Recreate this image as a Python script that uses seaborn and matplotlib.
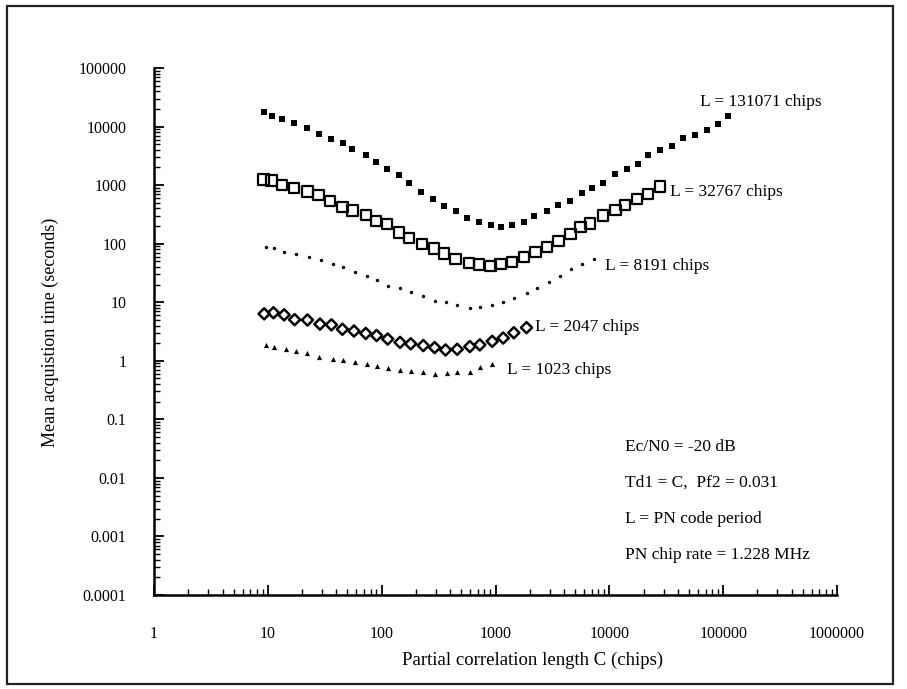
import numpy as np
import pandas as pd
import matplotlib
matplotlib.use("Agg")
import matplotlib.pyplot as plt
import seaborn as sns
from matplotlib.ticker import LogLocator, NullFormatter, FixedLocator, FixedFormatter
from matplotlib.patches import Rectangle

# ---- data (C in chips, T in seconds) ----
c_131071 = [9.2, 10.8, 13.3, 17.0, 22.3, 27.9, 35.7, 45.3, 55.4, 72.5, 88.6, 111, 142, 173, 220,
            284, 352, 446, 565, 714, 904, 1107, 1401, 1772, 2198, 2843, 3573, 4550, 5800, 7100,
            8850, 11300, 14400, 17950, 22000, 28000, 35700, 44600, 56800, 72400, 90300, 110600]
t_131071 = [17400, 15200, 13300, 11600, 9480, 7530, 6140, 5160, 4100, 3210, 2440, 1910, 1460, 1085,
            774, 576, 438, 368, 273, 239, 205, 192, 209, 239, 292, 368, 457, 537, 743, 910,
            1070, 1545, 1890, 2320, 3210, 3930, 4620, 6400, 7230, 8860, 10850, 15000]

c_32767 = [9.17, 10.8, 13.3, 17.0, 22.3, 27.9, 35.2, 45.3, 55.4, 72.5, 88.6, 111, 142, 173, 227,
           288, 352, 446, 583, 714, 904, 1107, 1401, 1772, 2243, 2843, 3573, 4550, 5570, 6810,
           8850, 11300, 13800, 17600, 22000, 28000]
t_32767 = [1245, 1196, 1017, 885, 774, 677, 531, 421, 368, 308, 245, 214, 156, 124, 98.8,
           83.0, 67.7, 55.2, 46.4, 43.9, 42.1, 45.1, 48.3, 59.2, 72.6, 88.9, 110, 146, 195, 220,
           304, 372, 457, 583, 714, 949]

c_8191 = [9.6, 11.4, 13.9, 17.6, 23.0, 29.2, 37.0, 46.2, 58.0, 73.8, 91.6, 113, 145, 180, 232,
          292, 364, 461, 595, 728, 936, 1169, 1449, 1873, 2321, 2935, 3718, 4613, 5762, 7278]
t_8191 = [88.9, 83.0, 72.6, 65.8, 59.2, 51.6, 45.1, 39.4, 33.0, 28.1, 23.6, 19.2, 17.5, 14.9, 12.8,
          10.6, 10.2, 8.89, 8.10, 8.29, 8.89, 10.2, 12.0, 14.3, 17.5, 22.3, 28.1, 36.8, 45.1, 53.7]

c_2047 = [9.28, 11.2, 13.9, 17.2, 22.3, 28.7, 36.2, 45.2, 57.1, 72.5, 90.3, 113, 145, 180, 232,
          292, 364, 461, 595, 728, 936, 1169, 1449, 1873]
t_2047 = [6.34, 6.61, 6.09, 5.04, 4.97, 4.23, 4.11, 3.45, 3.22, 2.93, 2.70, 2.35, 2.06, 1.95, 1.82,
          1.68, 1.53, 1.57, 1.75, 1.87, 2.15, 2.45, 3.01, 3.68]

c_1023 = [9.6, 11.4, 14.4, 17.6, 22.3, 28.2, 37.0, 46.2, 58.0, 73.8, 91.6, 113, 145, 182, 232,
          292, 372, 461, 595, 738, 936]
t_1023 = [1.88, 1.75, 1.57, 1.47, 1.37, 1.17, 1.09, 1.05, 0.953, 0.889, 0.800, 0.755, 0.697, 0.661,
          0.634, 0.592, 0.616, 0.634, 0.653, 0.778, 0.889]

series_names = ["L = 131071 chips", "L = 32767 chips", "L = 8191 chips", "L = 2047 chips", "L = 1023 chips"]
series_c = [c_131071, c_32767, c_8191, c_2047, c_1023]
series_t = [t_131071, t_32767, t_8191, t_2047, t_1023]

x_ticks = [1, 10, 100, 1000, 10000, 100000, 1000000]
x_ticklabels = ["1", "10", "100", "1000", "10000", "100000", "1000000"]
y_ticks = [0.0001, 0.001, 0.01, 0.1, 1, 10, 100, 1000, 10000, 100000]
y_ticklabels = ["0.0001", "0.001", "0.01", "0.1", "1", "10", "100", "1000", "10000", "100000"]

note_lines = ["Ec/N0 = -20 dB", "Td1 = C,  Pf2 = 0.031", "L = PN code period", "PN chip rate = 1.228 MHz"]

x_title = "Partial correlation length C (chips)"
y_title = "Mean acquistion time (seconds)"

df = pd.concat([pd.DataFrame({"C": c, "T": t, "series": n})
                for n, c, t in zip(series_names, series_c, series_t)], ignore_index=True)

# ---- styling ----
sns.set_style("ticks")
plt.rcParams["font.family"] = ["Liberation Serif", "DejaVu Serif"]
plt.rcParams["text.color"] = "black"

W, H = 907, 689
fig = plt.figure(figsize=(W / 100, H / 100), dpi=100)
fig.patch.set_facecolor("white")

def fx(px):
    return px / W

def fy(py):
    return 1 - py / H

ax_l, ax_r, ax_t, ax_b = 154, 837, 68, 595
ax = fig.add_axes([fx(ax_l), fy(ax_b), fx(ax_r) - fx(ax_l), fy(ax_t) - fy(ax_b)])
ax.set_xscale("log")
ax.set_yscale("log")

styles = {
    "L = 131071 chips": dict(marker="s", s=14, color="black", linewidth=0),
    "L = 32767 chips": dict(marker="s", s=55, facecolor="none", edgecolor="black", linewidth=1.6),
    "L = 8191 chips": dict(marker="o", s=6, color="black", linewidth=0),
    "L = 2047 chips": dict(marker="D", s=32, facecolor="none", edgecolor="black", linewidth=1.8),
    "L = 1023 chips": dict(marker="^", s=14, color="black", linewidth=0),
}
for name in series_names:
    sub = df[df["series"] == name]
    sns.scatterplot(data=sub, x="C", y="T", ax=ax, legend=False, zorder=3, **styles[name])

ax.set_xlim(1, 1e6)
ax.set_ylim(1e-4, 1e5)

ax.xaxis.set_major_locator(FixedLocator(x_ticks))
ax.xaxis.set_major_formatter(FixedFormatter(x_ticklabels))
ax.yaxis.set_major_locator(FixedLocator(y_ticks))
ax.yaxis.set_major_formatter(FixedFormatter(y_ticklabels))
ax.xaxis.set_minor_locator(LogLocator(base=10, subs=np.arange(2, 10), numticks=100))
ax.yaxis.set_minor_locator(LogLocator(base=10, subs=np.arange(2, 10), numticks=100))
ax.xaxis.set_minor_formatter(NullFormatter())
ax.yaxis.set_minor_formatter(NullFormatter())

ax.tick_params(which="major", direction="in", length=7, width=1.3, colors="black", labelsize=11.5)
ax.tick_params(axis="x", which="major", pad=22)
ax.tick_params(axis="y", which="major", pad=20)
ax.tick_params(which="minor", direction="in", length=4, width=1.0, colors="black")

for side in ["top", "right"]:
    ax.spines[side].set_visible(False)
for side in ["left", "bottom"]:
    ax.spines[side].set_linewidth(1.8)
    ax.spines[side].set_color("black")

ax.set_xlabel("")
ax.set_ylabel("")
fig.text(fx(533), fy(660), x_title, ha="center", va="center", fontsize=13.5)
fig.text(fx(50), fy(332), y_title, ha="center", va="center", rotation=90, fontsize=13)

# curve labels
label_pos = {
    "L = 131071 chips": (700, 102),
    "L = 32767 chips": (670, 192),
    "L = 8191 chips": (605, 266),
    "L = 2047 chips": (535, 327),
    "L = 1023 chips": (507, 370),
}
for name in series_names:
    px, py = label_pos[name]
    fig.text(fx(px), fy(py), name, ha="left", va="center", fontsize=12.5)

for i, line in enumerate(note_lines):
    fig.text(fx(625), fy(447 + 36 * i), line, ha="left", va="center", fontsize=12.5)

# outer frame of the scanned figure
fig.patches.append(Rectangle((fx(7), fy(684)), fx(893) - fx(7), fy(6) - fy(684),
                             transform=fig.transFigure, fill=False, edgecolor="#222222",
                             linewidth=1.6, zorder=0))

fig.savefig("out.png", dpi=100, facecolor="white")
